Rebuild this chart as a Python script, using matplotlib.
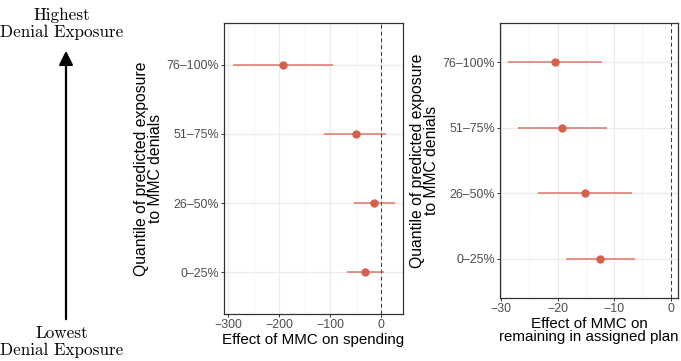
import numpy as np
import matplotlib.pyplot as plt

# quantile groups, bottom to top
groups = ['0–25%', '26–50%', '51–75%', '76–100%']

# effect of MMC on spending
spend_est = [-31, -14, -49, -192]
spend_lo = [-67, -53, -112, -290]
spend_hi = [6, 27, 10, -94]

# effect of MMC on remaining in assigned plan
plan_est = [-12.5, -15.2, -19.2, -20.5]
plan_lo = [-18.5, -23.5, -27.0, -28.8]
plan_hi = [-6.3, -6.9, -11.3, -12.2]

red = '#d6604d'
grey = '#4d4d4d'
sans = 'Liberation Sans'

fig = plt.figure(figsize=(6.81, 3.61), dpi=100)

def panel(ax, est, lo, hi, xlim, major, minor, xlabel):
    y = np.arange(1, len(groups) + 1)
    for g in y:
        ax.axhline(g, color='#ebebeb', lw=0.9, zorder=0)
    for v in major:
        ax.axvline(v, color='#ebebeb', lw=0.9, zorder=0)
    for v in minor:
        ax.axvline(v, color='#f2f2f2', lw=0.6, zorder=0)
    ax.axvline(0, color='#333333', lw=0.7, ls=(0, (4, 3)), zorder=1)
    ax.hlines(y, lo, hi, color=red, lw=1.1, alpha=0.85, zorder=2)
    ax.plot(est, y, 'o', color=red, ms=5, zorder=3)
    ax.set_xlim(xlim)
    ax.set_ylim(0.4, 4.6)
    ax.set_yticks(y)
    ax.set_yticklabels(groups)
    ax.set_xticks(major)
    for s in ax.spines.values():
        s.set_color('#333333')
        s.set_linewidth(0.9)
    ax.tick_params(colors='#333333', labelcolor=grey, labelsize=8.9, length=2, width=0.7, pad=1.5)
    for t in ax.get_xticklabels() + ax.get_yticklabels():
        t.set_family(sans)
    ax.set_xlabel(xlabel, fontsize=10.9, family=sans, color='black', labelpad=1.5, linespacing=0.95)
    ax.set_ylabel('Quantile of predicted exposure\nto MMC denials', fontsize=11.3,
                  family=sans, color='black', linespacing=0.95)

ax1 = fig.add_axes([0.3289, 0.1302, 0.2629, 0.8061])
panel(ax1, spend_est, spend_lo, spend_hi, (-308, 43),
      [-300, -200, -100, 0], [-250, -150, -50], 'Effect of MMC on spending')
ax1.yaxis.set_label_coords(-0.34, 0.5)

ax2 = fig.add_axes([0.7342, 0.1745, 0.2614, 0.7618])
panel(ax2, plan_est, plan_lo, plan_hi, (-30.2, 1.3),
      [-30, -20, -10, 0], [-25, -15, -5], 'Effect of MMC on\nremaining in assigned plan')
ax2.yaxis.set_label_coords(-0.343, 0.5)

# exposure arrow on the left
fig.patches.append(plt.matplotlib.patches.FancyArrowPatch(
    (66 / 681, 1 - 322 / 361), (66 / 681, 1 - 48 / 361), transform=fig.transFigure,
    arrowstyle='-|>,head_length=0.6,head_width=0.3', mutation_scale=14, color='black', lw=1.6))
fig.text(62 / 681, 1 - 24 / 361, 'Highest\nDenial Exposure', ha='center', va='center',
         family='cmr10', fontsize=12.3, linespacing=1.15)
fig.text(62 / 681, 1 - 342 / 361, 'Lowest\nDenial Exposure', ha='center', va='center',
         family='cmr10', fontsize=12.3, linespacing=1.15)

plt.savefig('out.png', dpi=100)
